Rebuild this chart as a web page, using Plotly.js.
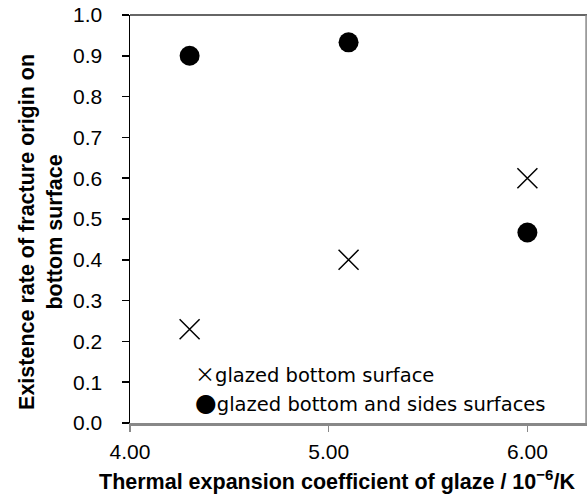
<!DOCTYPE html>
<html>
<head>
<meta charset="utf-8">
<script src="https://cdn.plot.ly/plotly-3.0.1.min.js"></script>
<style>html,body{margin:0;padding:0;background:#fff;}#chart{width:588px;height:495px;}</style>
</head>
<body>
<div id="chart"></div>
<script>
var glazeCTE = [4.3, 5.1, 6.0];
var bottomOnly = [0.23, 0.40, 0.60];
var bottomSides = [0.90, 0.933, 0.467];
var seriesNames = ["glazed bottom surface", "glazed bottom and sides surfaces"];
var seriesSymbols = ["×", "●"];
var symbolFonts = ["Noto Sans CJK JP", "DejaVu Sans"];
var symbolSizes = [20, 25];
var xTickVals = [4, 5, 6];
var xTickText = ["4.00", "5.00", "6.00"];
var xTitle = "Thermal expansion coefficient of glaze / 10<sup>−6</sup>/K";
var yTitle = "Existence rate of fracture origin on<br>bottom surface";

var traces = [
  {x: glazeCTE, y: bottomOnly, name: seriesNames[0], type: 'scatter', mode: 'markers',
   marker: {symbol: 'x-thin-open', size: 20, color: '#000', line: {color: '#000', width: 1.5}}},
  {x: glazeCTE, y: bottomSides, name: seriesNames[1], type: 'scatter', mode: 'markers',
   marker: {symbol: 'circle', size: 20, color: '#000'}}
];

var axFont = {family: 'Liberation Sans', size: 21, color: '#000'};
var titleFont = {family: 'Liberation Sans', size: 21.5, color: '#000', weight: 'bold'};
var legFont = {family: 'DejaVu Sans', size: 19.5, color: '#000'};

function legendText(i) {
  return '<span style="font-family:\'' + symbolFonts[i] + '\';font-size:' + symbolSizes[i] + 'px">' + seriesSymbols[i] + '</span>' + seriesNames[i];
}

var layout = {
  width: 588, height: 495,
  margin: {l: 130, r: 1, t: 15, b: 72, pad: 0},
  paper_bgcolor: '#fff', plot_bgcolor: '#fff',
  showlegend: false,
  font: {family: 'Liberation Sans'},
  xaxis: {range: [4, 6.3], tickvals: xTickVals, ticktext: xTickText,
    showgrid: false, zeroline: false, showline: true, linecolor: '#888', linewidth: 2.5,
    ticks: 'outside', ticklen: 6, tickcolor: '#888', tickwidth: 1.5,
    ticklabelstandoff: 2, tickfont: axFont},
  yaxis: {range: [0, 1], dtick: 0.1, tickformat: '.1f',
    showgrid: false, zeroline: false, showline: true, linecolor: '#000', linewidth: 1.5,
    ticks: 'outside', ticklen: 7, tickcolor: '#000', tickwidth: 1.5,
    ticklabelstandoff: 15, tickfont: axFont},
  shapes: [
    {type: 'line', xref: 'paper', yref: 'paper', x0: 0, x1: 1, y0: 1, y1: 1, line: {color: '#333', width: 1.5}},
    {type: 'line', xref: 'paper', yref: 'paper', x0: 0.998, x1: 0.998, y0: 0, y1: 1, line: {color: '#888', width: 1.5}}
  ],
  annotations: [
    {xref: 'paper', yref: 'paper', x: 0.137, y: 0.1225, xanchor: 'left', yanchor: 'middle',
     text: legendText(0), showarrow: false, font: legFont},
    {xref: 'paper', yref: 'paper', x: 0.137, y: 0.051, xanchor: 'left', yanchor: 'middle',
     text: legendText(1), showarrow: false, font: legFont},
    {xref: 'paper', yref: 'paper', x: 0.453, y: -0.14, xanchor: 'center', yanchor: 'middle',
     text: xTitle, showarrow: false, font: titleFont},
    {xref: 'paper', yref: 'paper', x: -0.195, y: 0.468, xanchor: 'center', yanchor: 'middle',
     text: yTitle, showarrow: false, textangle: -90, font: titleFont}
  ]
};

Plotly.newPlot('chart', traces, layout, {displayModeBar: false, staticPlot: true});
</script>
</body>
</html>
